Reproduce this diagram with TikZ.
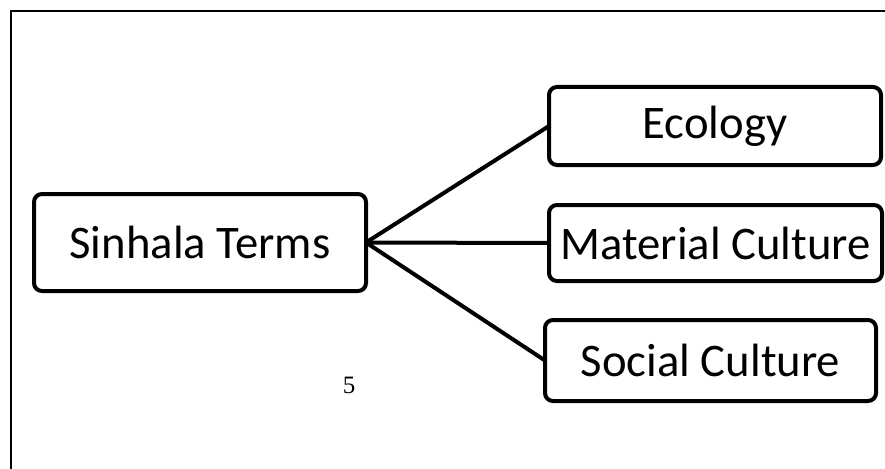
\documentclass[tikz,border=0pt]{standalone}
\usepackage{fontspec}
\setmainfont{Carlito}
\newfontfamily\numfont{Liberation Serif}
\begin{document}
\begin{tikzpicture}[x=1pt,y=-1pt,
  termbox/.style={draw=black,line width=4pt,rounded corners=8pt,fill=white,
    inner sep=0pt,outer sep=0pt,font=\fontsize{46.7}{56}\selectfont},
  link/.style={line width=4pt,black}]
\useasboundingbox (0,0) rectangle (885,468);
\draw[line width=1.8pt] (10.7,470) -- (10.7,10.7) -- (890,10.7);
\node[termbox,minimum width=332pt,minimum height=97pt] (sin) at (200,242.5) {Sinhala Terms};
\node[termbox,minimum width=332pt,minimum height=78pt] (eco) at (715,126) {Ecology};
\node[termbox,minimum width=333pt,minimum height=76pt] (mat) at (715.5,243) {Material Culture};
\node[termbox,minimum width=331pt,minimum height=81pt] (soc) at (710.5,360.5) {Social Culture};
\draw[link] (sin.east) -- (eco.west);
\draw[link] (sin.east) -- (mat.west);
\draw[link] (sin.east) -- (soc.west);
\node[font=\numfont\fontsize{25}{30}\selectfont,inner sep=0pt] (num) at (349,385) {5};
\end{tikzpicture}
\end{document}
